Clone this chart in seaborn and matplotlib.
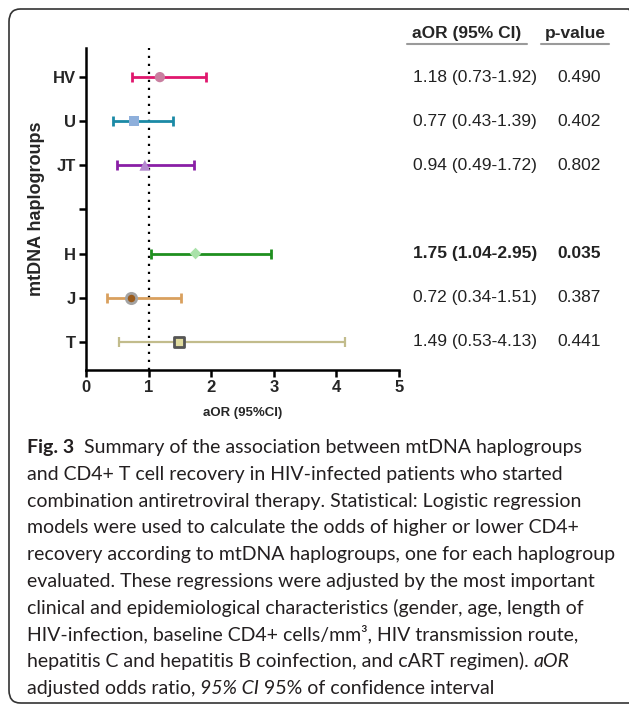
import matplotlib
matplotlib.use("Agg")
import matplotlib.pyplot as plt
import seaborn as sns
from matplotlib.patches import FancyBboxPatch

# values
groups = ["HV", "U", "JT", "H", "J", "T"]
aor = [1.18, 0.77, 0.94, 1.75, 0.72, 1.49]
ci_low = [0.73, 0.43, 0.49, 1.04, 0.34, 0.53]
ci_high = [1.92, 1.39, 1.72, 2.95, 1.51, 4.13]
aor_text = ["1.18 (0.73-1.92)", "0.77 (0.43-1.39)", "0.94 (0.49-1.72)",
            "1.75 (1.04-2.95)", "0.72 (0.34-1.51)", "1.49 (0.53-4.13)"]
p_values = ["0.490", "0.402", "0.802", "0.035", "0.387", "0.441"]
significant = [False, False, False, True, False, False]
tick_labels = ["HV", "U", "JT", "", "H", "J", "T"]
x_ticks = [0, 1, 2, 3, 4, 5]

# row slots, slot 3 stays empty as a separator
slots = [0, 1, 2, 4, 5, 6]

# styling per haplogroup
line_colors = ["#e0176e", "#1b8aa6", "#8a1fa6", "#1f8f1f", "#d9a05e", "#c2bc8c"]
face_colors = ["#c97fa0", "#8eafdb", "#b489cf", "#a9e2a9", "#9a5b1c", "#e1dc9f"]
edge_colors = ["none", "none", "none", "none", "#a3a3a3", "#555555"]
edge_widths = [0, 0, 0, 0, 2, 2]
markers = ["o", "s", "^", "D", "o", "s"]
marker_sizes = [55, 55, 60, 35, 55, 60]

caption = [
    [("Fig. 3", "b"), ("  Summary of the association between mtDNA haplogroups", "n")],
    [("and CD4+ T cell recovery in HIV-infected patients who started", "n")],
    [("combination antiretroviral therapy. Statistical: Logistic regression", "n")],
    [("models were used to calculate the odds of higher or lower CD4+", "n")],
    [("recovery according to mtDNA haplogroups, one for each haplogroup", "n")],
    [("evaluated. These regressions were adjusted by the most important", "n")],
    [("clinical and epidemiological characteristics (gender, age, length of", "n")],
    [("HIV-infection, baseline CD4+ cells/mm\u00b3, HIV transmission route,", "n")],
    [("hepatitis C and hepatitis B coinfection, and cART regimen). ", "n"), ("aOR", "i")],
    [("adjusted odds ratio, ", "n"), ("95% CI", "i"), (" 95% of confidence interval", "n")],
]

W, H = 629, 705
sns.set_style("ticks")
plt.rcParams["font.family"] = ["Liberation Sans", "DejaVu Sans"]

fig = plt.figure(figsize=(W / 100, H / 100), dpi=100)
ax = fig.add_axes([86 / W, 1 - 370 / H, (399 - 86) / W, (370 - 48) / H])

ax.axvline(1, color="black", linestyle=(0, (1, 2.6)), linewidth=1.6, zorder=1)

for i in range(len(groups)):
    ax.errorbar([aor[i]], [slots[i]],
                xerr=[[aor[i] - ci_low[i]], [ci_high[i] - aor[i]]],
                fmt="none", ecolor=line_colors[i], elinewidth=2 if i < 5 else 1.6,
                capsize=3.6, capthick=2 if i < 5 else 1.6, zorder=2)
    sns.scatterplot(x=[aor[i]], y=[slots[i]], marker=markers[i], s=marker_sizes[i],
                    color=face_colors[i], edgecolor=edge_colors[i],
                    linewidth=edge_widths[i], zorder=3, ax=ax, legend=False)

ax.set_xlim(0, 5)
ax.set_ylim(6.64, -0.66)
ax.set_xticks(x_ticks)
ax.set_xticklabels([str(t) for t in x_ticks], fontsize=12, fontweight="bold")
ax.set_yticks(range(len(tick_labels)))
ax.set_yticklabels(tick_labels, fontsize=12, fontweight="bold")
ax.tick_params(axis="both", length=5, width=1.8, color="black", pad=2)
for side in ["left", "bottom"]:
    ax.spines[side].set_linewidth(1.8)
    ax.spines[side].set_color("black")
sns.despine(ax=ax)
ax.set_xlabel("aOR (95%CI)", fontsize=9.5, fontweight="bold", labelpad=9)
ax.set_ylabel("mtDNA haplogroups", fontsize=13, fontweight="bold", labelpad=6)

# table of estimates on the right
tr = ax.get_yaxis_transform()
col1 = (413 - 86) / 313
col2 = (557 - 86) / 313
ax.text((467 - 86) / 313, -1.0, "aOR (95% CI)", transform=tr, ha="center", va="center",
        fontsize=12.5, fontweight="bold", clip_on=False)
ax.text((575 - 86) / 313, -1.0, "p-value", transform=tr, ha="center", va="center",
        fontsize=12.5, fontweight="bold", clip_on=False)
for x0, x1 in [(407, 527), (541, 609)]:
    ax.plot([(x0 - 86) / 313, (x1 - 86) / 313], [-0.75, -0.75], transform=tr,
            color="#9a9a9a", linewidth=1.5, clip_on=False)
for i in range(len(groups)):
    w = "bold" if significant[i] else "normal"
    ax.text(col1, slots[i], aor_text[i], transform=tr, ha="left", va="center",
            fontsize=12.5, fontweight=w, color="#222222", clip_on=False)
    ax.text(col2, slots[i], p_values[i], transform=tr, ha="left", va="center",
            fontsize=12.5, fontweight=w, color="#222222", clip_on=False)

# caption, drawn run by run so bold / italic pieces sit inline
renderer = fig.canvas.get_renderer()
cap_font = ["Lato", "DejaVu Sans"]
base_y = 453
for n, runs in enumerate(caption):
    x = 27
    y = base_y + n * 26.8
    for txt, style in runs:
        t = fig.text(x / W, 1 - y / H, txt, fontsize=14, family=cap_font,
                     fontweight="bold" if style == "b" else "normal",
                     fontstyle="italic" if style == "i" else "normal",
                     color="#231f20", ha="left", va="baseline")
        x += t.get_window_extent(renderer=renderer).width

# rounded frame around the figure panel
frame = FancyBboxPatch((9 / W, 1 - 703 / H), (640 - 9) / W, (703 - 9) / H,
                       boxstyle="round,pad=0,rounding_size=0.018",
                       transform=fig.transFigure, facecolor="none",
                       edgecolor="#333333", linewidth=1.2, clip_on=False)
fig.patches.append(frame)

fig.savefig("out.png", dpi=100)
